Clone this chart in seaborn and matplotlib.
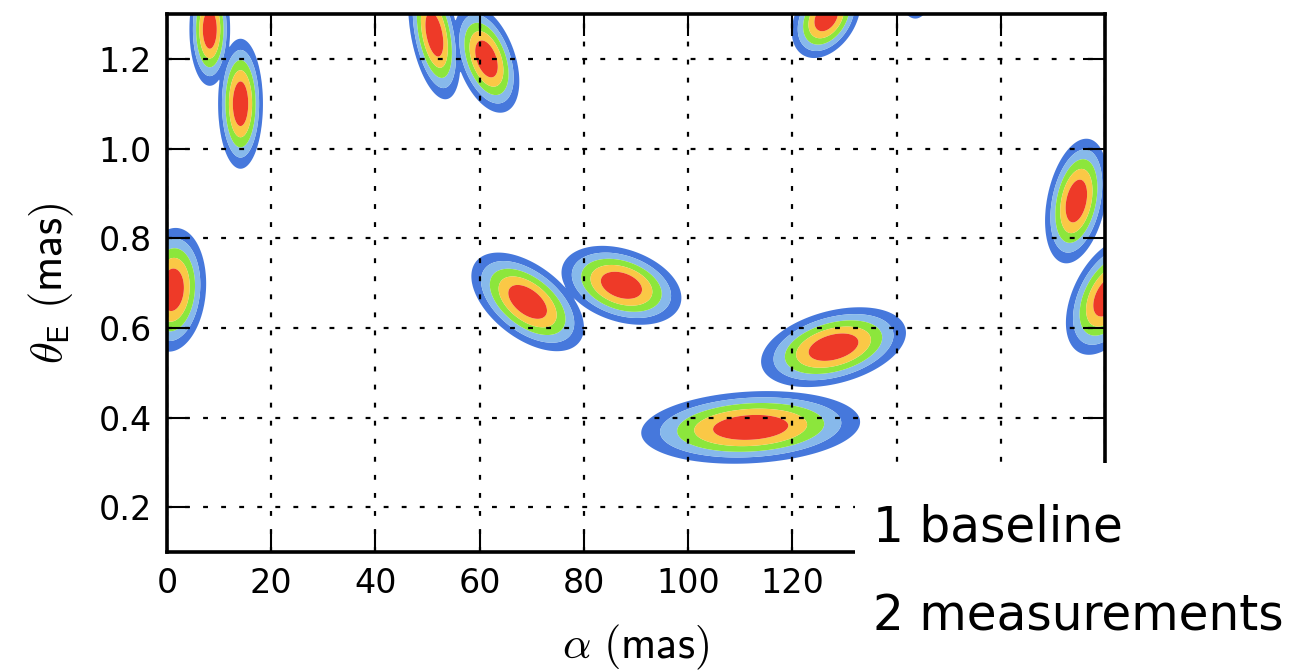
import numpy as np
import matplotlib
matplotlib.use("Agg")
import matplotlib.pyplot as plt
import seaborn as sns
from matplotlib.patches import Rectangle

# ---- data ----
# each likelihood blob: centre (alpha, thetaE), outer half-extents, correlation
blob_alpha = [1.0, 8.2, 14.1, 51.3, 61.3, 69.2, 87.2, 112.0, 127.9, 126.5, 143.6, 174.5, 180.5]
blob_theta = [0.685, 1.266, 1.10, 1.255, 1.20, 0.658, 0.695, 0.378, 0.557, 1.293, 1.395, 0.883, 0.67]
blob_half_alpha = [6.5, 3.9, 4.3, 5.0, 6.3, 10.8, 11.5, 21.0, 13.9, 6.6, 4.0, 6.0, 8.0]
blob_half_theta = [0.138, 0.126, 0.145, 0.145, 0.12, 0.11, 0.088, 0.081, 0.089, 0.091, 0.105, 0.139, 0.13]
blob_rho = [0.1, 0.0, 0.0, -0.42, -0.42, -0.52, -0.32, 0.15, 0.36, 0.35, 0.0, 0.32, 0.45]

band_radii = [3.2, 2.65, 2.15, 1.65, 1.1]   # outer -> inner contour (in sigma)
band_colors = ["#4678dc", "#87b9eb", "#8ce63c", "#fac846", "#ee3a28"]

x_ticks = [0, 20, 40, 60, 80, 100, 120, 140, 160, 180]
x_tick_labels = ["0", "20", "40", "60", "80", "100", "120", "", "", ""]
y_ticks = [0.2, 0.4, 0.6, 0.8, 1.0, 1.2]
y_tick_labels = ["0.2", "0.4", "0.6", "0.8", "1.0", "1.2"]
x_label = r"$\alpha\ (\mathsf{mas})$"
y_label = r"$\theta_\mathsf{E}\ (\mathsf{mas})$"
note_lines = ["1 baseline", "2 measurements"]

# ---- style ----
sns.set_style("ticks")
plt.rcParams["font.family"] = ["DejaVu Sans"]
plt.rcParams["mathtext.fontset"] = "cm"
plt.rcParams["lines.scale_dashes"] = False
plt.rcParams["text.color"] = "black"
plt.rcParams["axes.labelcolor"] = "black"

fig = plt.figure(figsize=(13.02, 6.71), dpi=100)
ax = fig.add_axes([0.1283, 0.1773, 0.7204, 0.8017])

gx = np.linspace(-2, 182, 1000)
gy = np.linspace(0.08, 1.32, 700)
X, Y = np.meshgrid(gx, gy)
Z = np.zeros_like(X)
for cx, cy, hx, hy, r in zip(blob_alpha, blob_theta, blob_half_alpha, blob_half_theta, blob_rho):
    sx, sy = hx / 3.2, hy / 3.2
    u = (X - cx) / sx
    v = (Y - cy) / sy
    d2 = (u * u - 2 * r * u * v + v * v) / (1 - r * r)
    Z = np.maximum(Z, np.exp(-0.5 * d2))

levels = [np.exp(-0.5 * rr * rr) for rr in band_radii] + [1.01]
ax.contourf(X, Y, Z, levels=levels, colors=band_colors, antialiased=True)

ax.set_xlim(0, 180)
ax.set_ylim(0.1, 1.3)
ax.set_xticks(x_ticks)
ax.set_xticklabels(x_tick_labels)
ax.set_yticks(y_ticks)
ax.set_yticklabels(y_tick_labels)
ax.set_axisbelow(False)
ax.grid(True, color="black", linestyle=(0, (3.5, 9.5)), linewidth=1.6)
ax.tick_params(direction="in", length=16, width=1.5, top=True, right=True,
               labelsize=24, pad=11, colors="black")
for sp in ax.spines.values():
    sp.set_linewidth(2.6)
    sp.set_color("black")
    sp.set_visible(True)

ax.set_xlabel(x_label, fontsize=32, labelpad=16)
ax.set_ylabel(y_label, fontsize=32, labelpad=16)

# white panel with the handwritten note
fig.patches.append(Rectangle((0.6567, 0.0), 0.36, 0.31, transform=fig.transFigure,
                             facecolor="white", edgecolor="none", zorder=10))
fig.text(0.6705, 0.1923, note_lines[0], fontsize=35, va="baseline", ha="left",
         color="black", zorder=11)
fig.text(0.6705, 0.0611, note_lines[1], fontsize=35, va="baseline", ha="left",
         color="black", zorder=11)

fig.savefig("out.png", dpi=100)
